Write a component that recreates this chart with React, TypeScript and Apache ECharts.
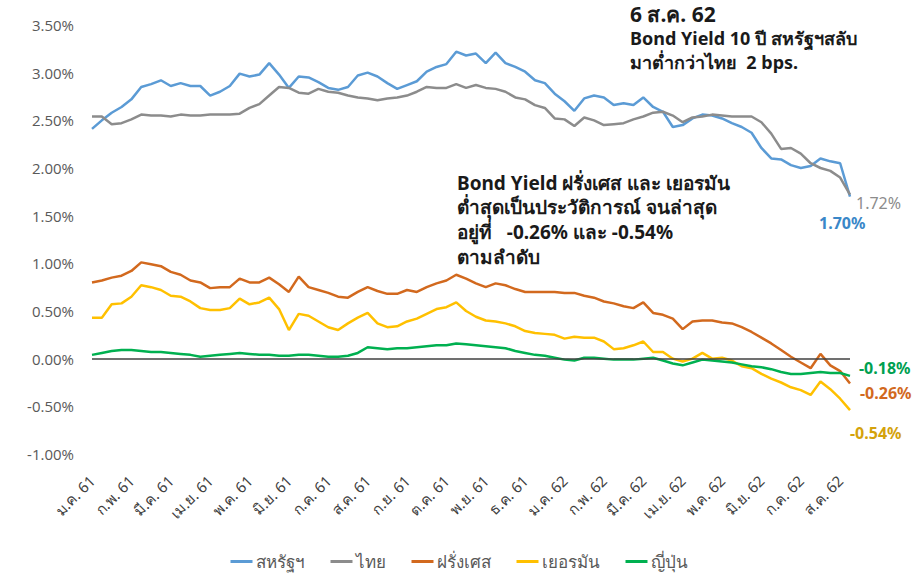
import React, { useEffect, useRef } from "react";
import * as echarts from "echarts";

const monthLabels = [
  "ม.ค. 61", "ก.พ. 61", "มี.ค. 61", "เม.ย. 61", "พ.ค. 61", "มิ.ย. 61", "ก.ค. 61", "ส.ค. 61",
  "ก.ย. 61", "ต.ค. 61", "พ.ย. 61", "ธ.ค. 61", "ม.ค. 62", "ก.พ. 62", "มี.ค. 62", "เม.ย. 62",
  "พ.ค. 62", "มิ.ย. 62", "ก.ค. 62", "ส.ค. 62",
];

const seriesNames = ["สหรัฐฯ", "ไทย", "ฝรั่งเศส", "เยอรมัน", "ญี่ปุ่น"];
const seriesColors = ["#5B9BD5", "#8C8C8C", "#D2691E", "#FFC000", "#00B050"];

// weekly readings (4 per month), Jan 2018 – 6 Aug 2019
const usYield = [
  2.41, 2.5, 2.58, 2.64, 2.72, 2.85, 2.88, 2.92, 2.86, 2.89, 2.86, 2.86, 2.76, 2.8, 2.86, 2.99,
  2.96, 2.98, 3.1, 2.98, 2.84, 2.96, 2.95, 2.9, 2.84, 2.82, 2.85, 2.97, 3.0, 2.96, 2.89, 2.83,
  2.87, 2.91, 3.01, 3.06, 3.09, 3.22, 3.18, 3.2, 3.1, 3.21, 3.1, 3.06, 3.01, 2.92, 2.89, 2.78,
  2.7, 2.6, 2.73, 2.76, 2.74, 2.66, 2.68, 2.66, 2.74, 2.64, 2.59, 2.43, 2.45, 2.52, 2.56, 2.55,
  2.52, 2.47, 2.43, 2.37, 2.21, 2.1, 2.09, 2.03, 2.0, 2.02, 2.1, 2.07, 2.05, 1.7,
];
const thYield = [
  2.54, 2.54, 2.46, 2.47, 2.51, 2.56, 2.55, 2.55, 2.54, 2.56, 2.55, 2.55, 2.56, 2.56, 2.56, 2.57,
  2.63, 2.67, 2.76, 2.85, 2.84, 2.79, 2.78, 2.83, 2.8, 2.79, 2.76, 2.74, 2.73, 2.71, 2.73, 2.74,
  2.76, 2.8, 2.85, 2.84, 2.84, 2.88, 2.84, 2.87, 2.84, 2.83, 2.8, 2.74, 2.72, 2.66, 2.63, 2.52,
  2.51, 2.44, 2.53, 2.5, 2.45, 2.46, 2.47, 2.51, 2.54, 2.58, 2.59, 2.55, 2.48, 2.53, 2.54, 2.56,
  2.55, 2.54, 2.54, 2.54, 2.48, 2.36, 2.2, 2.21, 2.15, 2.05, 2.0, 1.97, 1.9, 1.72,
];
const frYield = [
  0.8, 0.82, 0.85, 0.87, 0.92, 1.01, 0.99, 0.97, 0.91, 0.88, 0.82, 0.8, 0.74, 0.75, 0.75, 0.84,
  0.8, 0.8, 0.85, 0.78, 0.7, 0.86, 0.75, 0.72, 0.69, 0.65, 0.64, 0.7, 0.75, 0.71, 0.68, 0.68,
  0.72, 0.7, 0.75, 0.79, 0.82, 0.88, 0.84, 0.79, 0.75, 0.79, 0.77, 0.73, 0.7, 0.7, 0.7, 0.7,
  0.69, 0.69, 0.66, 0.64, 0.6, 0.58, 0.55, 0.53, 0.59, 0.48, 0.46, 0.42, 0.31, 0.39, 0.4, 0.4,
  0.38, 0.37, 0.33, 0.28, 0.22, 0.16, 0.09, 0.02, -0.04, -0.1, 0.05, -0.07, -0.13, -0.26,
];
const deYield = [
  0.43, 0.43, 0.57, 0.58, 0.65, 0.77, 0.75, 0.72, 0.66, 0.65, 0.6, 0.53, 0.51, 0.51, 0.53, 0.63,
  0.57, 0.59, 0.64, 0.52, 0.3, 0.47, 0.45, 0.39, 0.33, 0.3, 0.37, 0.43, 0.48, 0.37, 0.33, 0.34,
  0.39, 0.42, 0.47, 0.52, 0.54, 0.59, 0.5, 0.44, 0.4, 0.39, 0.37, 0.34, 0.29, 0.27, 0.26, 0.25,
  0.21, 0.23, 0.22, 0.22, 0.18, 0.1, 0.11, 0.14, 0.18, 0.07, 0.07, 0.0, -0.03, 0.0, 0.06, 0.0,
  0.01, -0.02, -0.08, -0.1, -0.16, -0.21, -0.25, -0.3, -0.33, -0.38, -0.24, -0.32, -0.42, -0.54,
];
const jpYield = [
  0.04, 0.06, 0.08, 0.09, 0.09, 0.08, 0.07, 0.07, 0.06, 0.05, 0.04, 0.02, 0.03, 0.04, 0.05, 0.06,
  0.05, 0.04, 0.04, 0.03, 0.03, 0.04, 0.04, 0.03, 0.02, 0.02, 0.03, 0.06, 0.12, 0.11, 0.1, 0.11,
  0.11, 0.12, 0.13, 0.14, 0.14, 0.16, 0.15, 0.14, 0.13, 0.12, 0.11, 0.08, 0.06, 0.04, 0.03, 0.01,
  -0.01, -0.02, 0.01, 0.01, 0.0, -0.01, -0.01, -0.01, 0.0, 0.01, -0.02, -0.05, -0.07, -0.04, -0.01, -0.02,
  -0.03, -0.04, -0.06, -0.08, -0.09, -0.11, -0.14, -0.16, -0.16, -0.15, -0.14, -0.15, -0.15, -0.18,
];

const allSeries = [usYield, thYield, frYield, deYield, jpYield];

const categories = usYield.map((_, i) => {
  const m = Math.min(Math.floor(i / 4), monthLabels.length - 1);
  return `${monthLabels[m]}|${i}`;
});

const FONT = "Tahoma, 'Noto Sans', 'DejaVu Sans', sans-serif";

export default function App() {
  const ref = useRef<HTMLDivElement>(null);
  useEffect(() => {
    if (!ref.current) return;
    const chart = echarts.init(ref.current, null, { renderer: "svg" });
    const txt = (x: number, y: number, text: string, size = 18, color = "#1a1a1a", weight: any = "bold") => ({
      type: "text",
      left: x,
      top: y,
      style: { text, fontSize: size, fontWeight: weight, fill: color, fontFamily: FONT },
    });
    chart.setOption({
      animation: false,
      backgroundColor: "#ffffff",
      grid: { left: 92, right: 68, top: 25, bottom: 124, containLabel: false },
      legend: {
        bottom: 3,
        left: "center",
        data: seriesNames,
        icon: "rect",
        itemWidth: 22,
        itemHeight: 3,
        itemGap: 26,
        textStyle: { fontSize: 17, color: "#595959", fontFamily: FONT, padding: [0, 0, 0, -2] },
      },
      xAxis: {
        type: "category",
        data: categories,
        boundaryGap: false,
        axisLine: { show: false },
        axisTick: { show: false },
        splitLine: { show: false },
        axisLabel: {
          interval: (idx: number) => idx % 4 === 0,
          rotate: 45,
          margin: 24,
          fontSize: 15,
          color: "#404040",
          fontFamily: FONT,
          formatter: (v: string) => v.split("|")[0],
        },
      },
      yAxis: {
        type: "value",
        min: -1,
        max: 3.5,
        interval: 0.5,
        axisLine: { show: false },
        axisTick: { show: false },
        splitLine: { show: false },
        axisLabel: {
          fontSize: 15,
          color: "#595959",
          margin: 18,
          fontFamily: "'Open Sans', 'Liberation Sans', sans-serif",
          formatter: (v: number) => v.toFixed(2) + "%",
        },
      },
      series: allSeries.map((d, k) => ({
        name: seriesNames[k],
        type: "line",
        data: d,
        showSymbol: false,
        symbol: "none",
        lineStyle: { width: 2.5, color: seriesColors[k] },
        itemStyle: { color: seriesColors[k] },
        z: k === 4 ? 3 : 2,
        markLine:
          k === 0
            ? {
                silent: true,
                symbol: "none",
                label: { show: false },
                lineStyle: { color: "#404040", width: 1.5, type: "solid" },
                data: [{ yAxis: 0 }],
              }
            : undefined,
      })),
      graphic: [
        txt(630, 3, "6 ส.ค. 62", 21),
        txt(630, 29, "Bond Yield 10 ปี สหรัฐฯสลับ", 18),
        txt(630, 53, "มาต่ำกว่าไทย  2 bps.", 18),
        txt(457, 173, "Bond Yield ฝรั่งเศส และ เยอรมัน", 19),
        txt(457, 197, "ต่ำสุดเป็นประวัติการณ์ จนล่าสุด", 19),
        txt(457, 222, "อยู่ที่   -0.26% และ -0.54%", 19),
        txt(457, 247, "ตามลำดับ", 19),
        txt(856, 195, "1.72%", 16, "#8C8C8C", "normal"),
        txt(819, 215, "1.70%", 16, "#3A87C8"),
        txt(859, 360, "-0.18%", 16, "#00A050"),
        txt(860, 385, "-0.26%", 16, "#D2691E"),
        txt(850, 425, "-0.54%", 16, "#D4A20C"),
      ],
    });
    return () => chart.dispose();
  }, []);
  return <div ref={ref} style={{ width: 918, height: 578, position: "absolute", left: 0, top: 0 }} />;
}
